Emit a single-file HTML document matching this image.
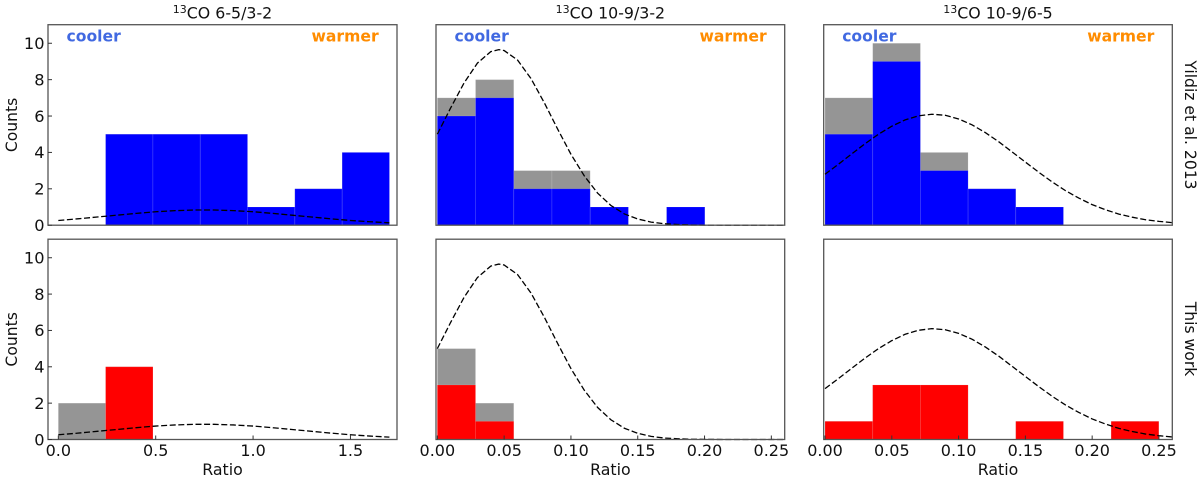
<!DOCTYPE html>
<html>
<head>
<meta charset="utf-8">
<style>
html,body{margin:0;padding:0;background:#fff;}
svg{display:block;}
text{font-family:"DejaVu Sans","Liberation Sans",sans-serif;fill:#111;}
</style>
</head>
<body>
<svg id="chart" xmlns="http://www.w3.org/2000/svg" width="1200" height="482" viewBox="0 0 1200 482"></svg>
<script>
// ---- data ----
const yTicks = [0, 2, 4, 6, 8, 10];
const xTicksWide = [0, 0.5, 1.0, 1.5];
const xTickLabelsWide = ['0.0', '0.5', '1.0', '1.5'];
const xTicksNarrow = [0, 0.05, 0.10, 0.15, 0.20, 0.25];
const xTickLabelsNarrow = ['0.00', '0.05', '0.10', '0.15', '0.20', '0.25'];

const binWidth65 = 0.2429;
const binWidth109a = 0.0286;
const binWidth109b = 0.0357;

const grey65Top = [0, 5, 5, 5, 1, 2, 4];
const blue65Top = [0, 5, 5, 5, 1, 2, 4];
const grey93Top = [7, 8, 3, 3, 1, 0, 1];
const blue93Top = [6, 7, 2, 2, 1, 0, 1];
const grey95Top = [7, 10, 4, 2, 1];
const blue95Top = [5, 9, 3, 2, 1];

const grey65Bottom = [2, 4];
const red65Bottom = [0, 4];
const grey93Bottom = [5, 2];
const red93Bottom = [3, 1];
const grey95Bottom = [1, 3, 3, 0, 1, 0, 1];
const red95Bottom = [1, 3, 3, 0, 1, 0, 1];

const curve65X = [0, 0.1, 0.2, 0.3, 0.4, 0.5, 0.6, 0.7, 0.8, 0.9, 1.0, 1.1, 1.2, 1.3, 1.4, 1.5, 1.6, 1.7];
const curve65Y = [0.26, 0.35, 0.45, 0.55, 0.65, 0.74, 0.80, 0.835, 0.835, 0.80, 0.74, 0.65, 0.55, 0.45, 0.35, 0.26, 0.19, 0.13];
const curve93X = [0, 0.01, 0.02, 0.03, 0.04, 0.046, 0.05, 0.06, 0.07, 0.08, 0.09, 0.10, 0.11, 0.12, 0.13, 0.14, 0.15, 0.16, 0.17, 0.18, 0.19, 0.20, 0.22, 0.26];
const curve93Y = [5.0, 6.45, 7.82, 8.91, 9.54, 9.65, 9.60, 9.08, 8.07, 6.74, 5.29, 3.90, 2.71, 1.76, 1.08, 0.62, 0.34, 0.17, 0.08, 0.04, 0.015, 0.006, 0, 0];
const curve95X = [0, 0.01, 0.02, 0.03, 0.04, 0.05, 0.06, 0.07, 0.08, 0.09, 0.10, 0.11, 0.12, 0.13, 0.14, 0.15, 0.16, 0.17, 0.18, 0.19, 0.20, 0.21, 0.22, 0.23, 0.24, 0.25, 0.26];
const curve95Y = [2.8, 3.35, 3.92, 4.48, 5.0, 5.44, 5.79, 6.01, 6.1, 6.04, 5.84, 5.52, 5.09, 4.59, 4.03, 3.47, 2.91, 2.38, 1.90, 1.49, 1.13, 0.85, 0.61, 0.44, 0.30, 0.21, 0.14];

// ---- layout ----
const svg = document.getElementById('chart');
const NS = 'http://www.w3.org/2000/svg';
const rows = [
  { top: 24.7, bottom: 225.2 },
  { top: 239.2, bottom: 439.5 }
];
const cols = [
  { left: 48, right: 397, xMin: -0.053, xMax: 1.739 },
  { left: 436, right: 784.7, xMin: -0.001, xMax: 0.26 },
  { left: 823.7, right: 1172.3, xMin: -0.001, xMax: 0.26 }
];
const Y_MAX = 11.02;

function el(tag, attrs, parent) {
  const e = document.createElementNS(NS, tag);
  for (const k in attrs) e.setAttribute(k, attrs[k]);
  (parent || svg).appendChild(e);
  return e;
}
function xScale(col, v) {
  return col.left + (v - col.xMin) / (col.xMax - col.xMin) * (col.right - col.left);
}
function yScale(row, v) {
  return row.bottom - v / Y_MAX * (row.bottom - row.top);
}

function drawBars(parent, col, row, values, width, fill, label) {
  values.forEach(function (v, i) {
    if (v <= 0) return;
    const x0 = xScale(col, i * width);
    const x1 = xScale(col, (i + 1) * width);
    const y = yScale(row, v);
    const r = el('rect', { x: x0, y: y, width: x1 - x0, height: row.bottom - y, fill: fill, stroke: '#ffffff', 'stroke-opacity': 0.14, 'stroke-width': 0.8 }, parent);
    
    
  });
}

function drawCurve(parent, col, row, xs, ys) {
  const pts = xs.map(function (x, i) {
    return xScale(col, x).toFixed(2) + ',' + yScale(row, ys[i]).toFixed(2);
  }).join(' ');
  const p = el('polyline', { points: pts, fill: 'none', stroke: '#000', 'stroke-width': 1.3, 'stroke-dasharray': '6 2.6' }, parent);
  
  
}

function drawPanel(opts) {
  const col = cols[opts.c];
  const row = rows[opts.r];
  const g = el('g', {});
  
  

  drawBars(g, col, row, opts.grey, opts.width, '#959595', 'grey');
  drawBars(g, col, row, opts.color, opts.width, opts.fill, opts.fill === '#0000ff' ? 'blue' : 'red');
  drawCurve(g, col, row, opts.curveX, opts.curveY);

  const frame = el('rect', { x: col.left, y: row.top, width: col.right - col.left, height: row.bottom - row.top, fill: 'none', stroke: '#555', 'stroke-width': 1.3 }, g);
  
  

  if (opts.c === 0) {
    yTicks.forEach(function (t) {
      const y = yScale(row, t);
      const tick = el('line', { x1: col.left, x2: col.left + 4, y1: y, y2: y, stroke: '#333', 'stroke-width': 1 }, g);
      
      
      const lab = el('text', { x: 44.5, y: y + 5.8, 'text-anchor': 'end', 'font-size': 16.2 }, g);
      lab.textContent = String(t);
      
      
    });
    const yl = el('text', { transform: 'translate(17,' + ((row.top + row.bottom) / 2) + ') rotate(-90)', 'text-anchor': 'middle', 'font-size': 15.6 }, g);
    yl.textContent = 'Counts';
    
    
  }

  if (opts.r === 1) {
    opts.xTicks.forEach(function (t, i) {
      const x = xScale(col, t);
      const tick = el('line', { x1: x, x2: x, y1: row.bottom, y2: row.bottom - 4, stroke: '#333', 'stroke-width': 1 }, g);
      
      
      const lab = el('text', { x: x, y: 456, 'text-anchor': 'middle', 'font-size': 16 }, g);
      lab.textContent = opts.xLabels[i];
      
      
    });
    const xl = el('text', { x: (col.left + col.right) / 2, y: 475, 'text-anchor': 'middle', 'font-size': 15.8 }, g);
    xl.textContent = 'Ratio';
    
    
  } else {
    const c = el('text', { x: col.left + 18.5, y: 41.5, 'font-size': 15.6, 'font-weight': 'bold', style: 'fill:#4169e1' }, g);
    c.textContent = 'cooler';
    
    
    const w = el('text', { x: col.left + 263.5, y: 41.5, 'font-size': 15.6, 'font-weight': 'bold', style: 'fill:#ff8c00' }, g);
    w.textContent = 'warmer';
    
    

    const title = el('text', { x: (col.left + col.right) / 2, y: 18.3, 'text-anchor': 'middle', 'font-size': 15.8 }, g);
    
    
    const s = el('tspan', { 'font-size': 11, dy: -5.5 }, title);
    s.textContent = '13';
    const m = el('tspan', { dy: 5.5 }, title);
    m.textContent = opts.title;
  }
}

drawPanel({ name: 'panel-65-32-yildiz', c: 0, r: 0, grey: grey65Top, color: blue65Top, fill: '#0000ff', width: binWidth65, curveX: curve65X, curveY: curve65Y, title: 'CO 6-5/3-2' });
drawPanel({ name: 'panel-109-32-yildiz', c: 1, r: 0, grey: grey93Top, color: blue93Top, fill: '#0000ff', width: binWidth109a, curveX: curve93X, curveY: curve93Y, title: 'CO 10-9/3-2' });
drawPanel({ name: 'panel-109-65-yildiz', c: 2, r: 0, grey: grey95Top, color: blue95Top, fill: '#0000ff', width: binWidth109b, curveX: curve95X, curveY: curve95Y, title: 'CO 10-9/6-5' });
drawPanel({ name: 'panel-65-32-this-work', c: 0, r: 1, grey: grey65Bottom, color: red65Bottom, fill: '#ff0000', width: binWidth65, curveX: curve65X, curveY: curve65Y, xTicks: xTicksWide, xLabels: xTickLabelsWide });
drawPanel({ name: 'panel-109-32-this-work', c: 1, r: 1, grey: grey93Bottom, color: red93Bottom, fill: '#ff0000', width: binWidth109a, curveX: curve93X, curveY: curve93Y, xTicks: xTicksNarrow, xLabels: xTickLabelsNarrow });
drawPanel({ name: 'panel-109-65-this-work', c: 2, r: 1, grey: grey95Bottom, color: red95Bottom, fill: '#ff0000', width: binWidth109b, curveX: curve95X, curveY: curve95Y, xTicks: xTicksNarrow, xLabels: xTickLabelsNarrow });

const rowLabelTop = el('text', { transform: 'translate(1185,125) rotate(90)', 'text-anchor': 'middle', 'font-size': 15.6 });
rowLabelTop.textContent = 'Yildiz et al. 2013';


const rowLabelBottom = el('text', { transform: 'translate(1185,339) rotate(90)', 'text-anchor': 'middle', 'font-size': 15.6 });
rowLabelBottom.textContent = 'This work';


</script>
</body>
</html>
